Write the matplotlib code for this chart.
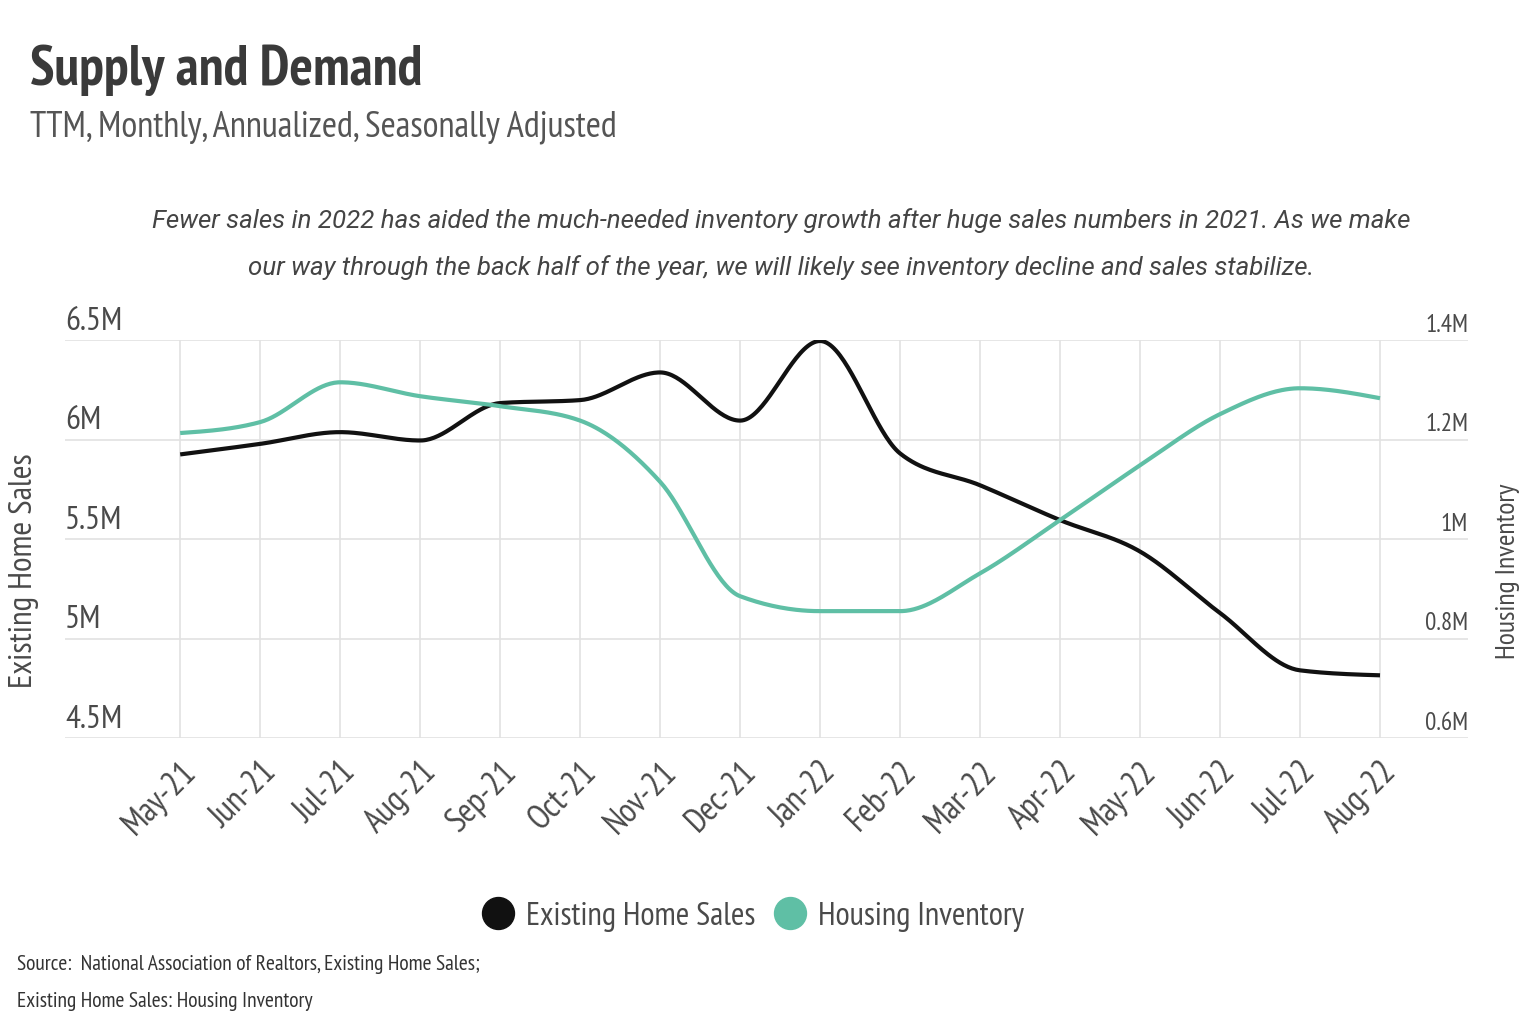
import matplotlib
matplotlib.use("Agg")
import matplotlib.pyplot as plt
import numpy as np
from matplotlib import font_manager
from matplotlib.lines import Line2D

# Data (millions)
months = ["May-21", "Jun-21", "Jul-21", "Aug-21", "Sep-21", "Oct-21", "Nov-21", "Dec-21",
          "Jan-22", "Feb-22", "Mar-22", "Apr-22", "May-22", "Jun-22", "Jul-22", "Aug-22"]
home_sales = [5.925, 5.978, 6.037, 5.995, 6.183, 6.198, 6.337, 6.095,
              6.495, 5.93, 5.77, 5.595, 5.437, 5.128, 4.84, 4.815]
inventory = [1.213, 1.235, 1.315, 1.287, 1.267, 1.238, 1.115, 0.885,
             0.855, 0.855, 0.931, 1.038, 1.148, 1.251, 1.303, 1.283]
left_ticks = [4.5, 5.0, 5.5, 6.0, 6.5]
left_labels = ["4.5M", "5M", "5.5M", "6M", "6.5M"]
right_ticks = [0.6, 0.8, 1.0, 1.2, 1.4]
right_labels = ["0.6M", "0.8M", "1M", "1.2M", "1.4M"]

SALES_COLOR = "#111111"
INV_COLOR = "#5fbfa5"
TEXT = "#4a4a4a"
GRID = "#e2e2e2"

# pick a narrow font if one is installed
ttf = font_manager.fontManager.ttflist
installed = {f.name for f in ttf}
condensed_dejavu = any(f.name == "DejaVu Sans" and f.stretch == "condensed" for f in ttf)
font = "DejaVu Sans"
for cand in ["PT Sans Narrow", "Liberation Sans Narrow", "Roboto Condensed", "Open Sans Condensed"]:
    if cand in installed:
        font = cand
        break
plt.rcParams["font.family"] = [font, "DejaVu Sans"]
if font == "DejaVu Sans" and condensed_dejavu:
    plt.rcParams["font.stretch"] = "condensed"

# a family that really has an italic face, for the note
italic_font = "DejaVu Sans"
for cand in [font, "Liberation Sans Narrow", "Roboto", "Lato", "Open Sans", "Noto Sans"]:
    if any(f.name == cand and f.style in ("italic", "oblique") for f in ttf):
        italic_font = cand
        break


def monotone(y, n=40):
    # monotone-x cubic path through the points (rendering only)
    y = np.asarray(y, dtype=float)
    s = np.diff(y)
    t = np.zeros(len(y))
    for i in range(1, len(y) - 1):
        s0, s1 = s[i - 1], s[i]
        p = (s0 + s1) / 2
        t[i] = (np.sign(s0) + np.sign(s1)) * min(abs(s0), abs(s1), 0.5 * abs(p))
    t[0] = (3 * s[0] - t[1]) / 2
    t[-1] = (3 * s[-1] - t[-2]) / 2
    xs, ys = [], []
    for i in range(len(y) - 1):
        u = np.linspace(0, 1, n, endpoint=(i == len(y) - 2))
        h00 = 2 * u**3 - 3 * u**2 + 1
        h10 = u**3 - 2 * u**2 + u
        h01 = -2 * u**3 + 3 * u**2
        h11 = u**3 - u**2
        xs.append(i + u)
        ys.append(h00 * y[i] + h10 * t[i] + h01 * y[i + 1] + h11 * t[i + 1])
    return np.concatenate(xs), np.concatenate(ys)


W, H = 1538, 1012
fig = plt.figure(figsize=(W / 100, H / 100), dpi=100)


def fx(x):
    return x / W


def fy(y):
    return 1 - y / H


ax = fig.add_axes([fx(65), fy(739), fx(1468) - fx(65), fy(341) - fy(739)])
ax2 = ax.twinx()

x = np.arange(len(months))
ax.set_xlim(-1.44, len(months) - 1 + 1.1)
ax.set_ylim(4.5, 6.5)
ax2.set_ylim(0.6, 1.4)

for a in (ax, ax2):
    for sp in a.spines.values():
        sp.set_visible(False)
    a.tick_params(length=0)
    a.set_yticks([])

for v in left_ticks:
    ax.axhline(v, color=GRID, lw=1.2, zorder=0)
for xi in x:
    ax.axvline(xi, color=GRID, lw=1.2, zorder=0)

sx, sy = monotone(home_sales)
ax.plot(sx, sy, color=SALES_COLOR, lw=3, zorder=3, solid_capstyle="butt")
ix, iy = monotone(inventory)
ax2.plot(ix, iy, color=INV_COLOR, lw=3, zorder=3, solid_capstyle="butt")

# y tick labels sitting above the gridlines
for v, lab in zip(left_ticks, left_labels):
    ax.annotate(lab, xy=(0, v), xycoords=("axes fraction", "data"),
                xytext=(0, 3), textcoords="offset points",
                ha="left", va="bottom", fontsize=24, color=TEXT)
for v, lab in zip(right_ticks, right_labels):
    ax2.annotate(lab, xy=(1, v), xycoords=("axes fraction", "data"),
                 xytext=(0, 3), textcoords="offset points",
                 ha="right", va="bottom", fontsize=18, color=TEXT)

ax.set_xticks(x)
ax.set_xticklabels(months, rotation=45, ha="right", rotation_mode="anchor",
                   fontsize=24.5, color=TEXT)
ax.tick_params(axis="x", pad=12)

fig.text(fx(24), fy(571), "Existing Home Sales", rotation=90, ha="center", va="center",
         fontsize=24, color=TEXT)
fig.text(fx(1508), fy(571), "Housing Inventory", rotation=90, ha="center", va="center",
         fontsize=20, color=TEXT)

fig.text(fx(30), fy(70), "Supply and Demand", ha="left", va="center",
         fontsize=40, fontweight="bold", color="#3a3a3a")
fig.text(fx(30), fy(127), "TTM, Monthly, Annualized, Seasonally Adjusted", ha="left",
         va="center", fontsize=26.3, color="#555555")
fig.text(fx(781), fy(244),
         "Fewer sales in 2022 has aided the much-needed inventory growth after huge sales numbers in 2021. As we make\n"
         "our way through the back half of the year, we will likely see inventory decline and sales stabilize.",
         ha="center", va="center", fontsize=18.6, style="italic", color="#444444",
         linespacing=2.14, family=[italic_font, "DejaVu Sans"])

handles = [Line2D([], [], ls="none", marker="o", ms=23, color=SALES_COLOR),
           Line2D([], [], ls="none", marker="o", ms=23, color=INV_COLOR)]
fig.legend(handles, ["Existing Home Sales", "Housing Inventory"], loc="center",
           bbox_to_anchor=(fx(752), fy(917)), ncol=2, frameon=False, fontsize=23.5,
           handletextpad=0.3, columnspacing=0.5, labelcolor=TEXT, handlelength=1.1)

fig.text(fx(17), fy(965), "Source:  National Association of Realtors, Existing Home Sales;",
         ha="left", va="center", fontsize=15.5, color="#333333")
fig.text(fx(17), fy(1002), "Existing Home Sales: Housing Inventory",
         ha="left", va="center", fontsize=15.5, color="#333333")

fig.savefig("out.png", dpi=100, facecolor="white")
